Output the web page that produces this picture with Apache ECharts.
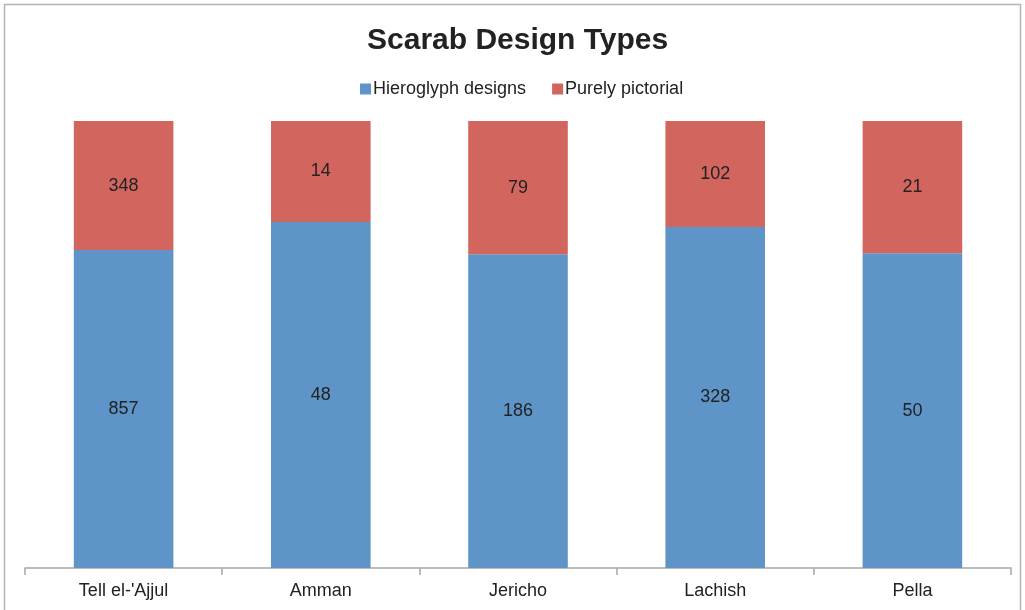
<!DOCTYPE html>
<html>
<head>
<meta charset="utf-8">
<script src="https://cdn.jsdelivr.net/npm/echarts@6/dist/echarts.min.js"></script>
<style>
	html, body { margin: 0; padding: 0; background: #fff; }
	#chart { width: 1025px; height: 610px; }
</style>
</head>
<body>
<div id="chart"></div>
<script>
	// raw counts
	var sites = ["Tell el-'Ajjul", "Amman", "Jericho", "Lachish", "Pella"];
	var hieroglyph = [857, 48, 186, 328, 50];
	var pictorial = [348, 14, 79, 102, 21];

	// 100% stacked: each bar is the share of its site's total
	function share(arr) {
		return arr.map(function (v, i) {
			var total = hieroglyph[i] + pictorial[i];
			return { value: v / total * 100, raw: v };
		});
	}

	var myChart = echarts.init(document.getElementById('chart'));
	var labelStyle = {
		show: true,
		position: 'inside',
		color: '#222',
		fontSize: 18,
		fontFamily: 'Liberation Sans, Arial, sans-serif',
		formatter: function (p) { return p.data.raw; }
	};
	var option = {
		animation: false,
		backgroundColor: '#fff',
		textStyle: { fontFamily: 'Liberation Sans, Arial, sans-serif' },
		title: {
			text: 'Scarab Design Types',
			left: 362,
			top: 21,
			textStyle: { fontSize: 30, fontWeight: 'bold', color: '#222' }
		},
		legend: {
			top: 75,
			left: 355,
			itemWidth: 11,
			itemHeight: 11,
			itemGap: 26,
			icon: 'rect',
			textStyle: { fontSize: 18, color: '#222', padding: [0, 0, 0, -3] },
			data: ['Hieroglyph designs', 'Purely pictorial']
		},
		grid: { left: 25, right: 14, top: 121, bottom: 42 },
		xAxis: {
			type: 'category',
			data: sites,
			axisLine: { lineStyle: { color: '#a6a6a6', width: 1.5 } },
			axisTick: { show: true, length: 7, lineStyle: { color: '#a6a6a6', width: 1.5 } },
			axisLabel: { fontSize: 18, color: '#222', margin: 14 }
		},
		yAxis: {
			type: 'value',
			min: 0,
			max: 100,
			show: false
		},
		graphic: [{
			type: 'rect',
			shape: { x: 4.5, y: 4.5, width: 1016, height: 640 },
			style: { fill: 'none', stroke: '#b4b4b4', lineWidth: 1.5 },
			silent: true
		}],
		series: [{
			name: 'Hieroglyph designs',
			type: 'bar',
			stack: 'all',
			barWidth: '50.5%',
			itemStyle: { color: '#5E94C8' },
			label: labelStyle,
			data: share(hieroglyph)
		}, {
			name: 'Purely pictorial',
			type: 'bar',
			stack: 'all',
			itemStyle: { color: '#D2665F' },
			label: labelStyle,
			data: share(pictorial)
		}]
	};
	myChart.setOption(option);
</script>
</body>
</html>
